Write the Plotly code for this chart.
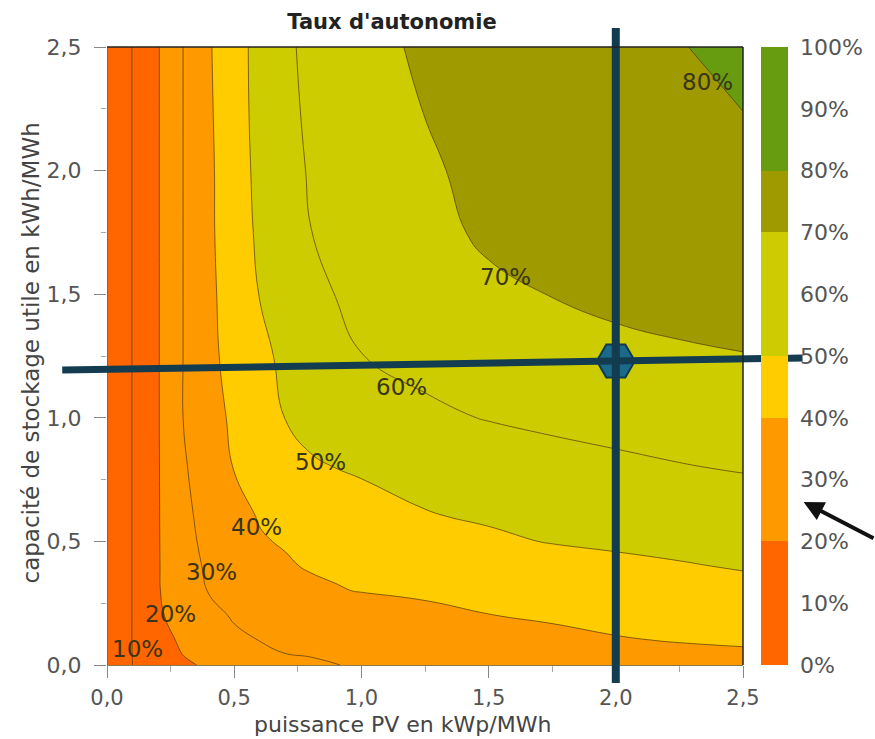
import plotly.graph_objects as go

# ---------------- data ----------------
pv_power = [0, 0.1, 0.2, 0.3, 0.4, 0.5, 0.6, 0.7, 0.8, 0.9, 1.0, 1.25, 1.5, 1.75, 2.0, 2.25, 2.5]
storage = [0, 0.05, 0.1, 0.2, 0.3, 0.4, 0.5, 0.6, 0.8, 1.0, 1.25, 1.5, 1.75, 2.0, 2.25, 2.5]

row_000 = [0, 10.0, 14.3, 18.7, 21.2, 23.0, 24.7, 26.5, 28.2, 29.9, 30.5, 31.6, 32.6, 33.4, 34.0, 34.5, 35.0]
row_005 = [0, 10.1, 15.5, 20.4, 22.9, 25.4, 28.0, 30.2, 31.0, 31.7, 32.3, 33.8, 35.0, 36.1, 37.0, 37.9, 38.8]
row_010 = [0, 10.2, 16.7, 21.5, 24.5, 28.8, 30.1, 30.7, 31.4, 32.0, 32.6, 34.2, 35.7, 37.3, 39.3, 40.5, 41.3]
row_020 = [0, 10.2, 18.7, 23.8, 28.2, 30.6, 31.5, 32.4, 33.3, 34.3, 35.2, 37.5, 39.8, 41.3, 42.8, 43.6, 44.3]
row_030 = [0, 10.2, 19.4, 25.4, 30.3, 32.1, 33.8, 35.5, 37.8, 39.5, 40.3, 41.6, 42.9, 44.3, 45.7, 46.6, 47.5]
row_040 = [0, 10.2, 19.4, 26.5, 31.3, 33.8, 36.4, 39.0, 40.8, 41.2, 41.8, 43.2, 44.7, 46.3, 48.2, 49.4, 50.6]
row_050 = [0, 10.2, 19.4, 27.3, 32.3, 35.8, 39.3, 40.7, 41.9, 42.8, 43.8, 45.9, 48.6, 50.4, 51.3, 52.2, 53.1]
row_060 = [0, 10.2, 19.4, 27.9, 33.1, 37.3, 40.5, 41.8, 43.3, 44.4, 45.7, 49.5, 50.9, 52.3, 53.7, 54.7, 55.6]
row_080 = [0, 10.2, 19.4, 29.0, 35.0, 40.3, 42.8, 45.4, 49.0, 50.1, 51.3, 52.8, 54.6, 57.0, 58.3, 59.6, 60.6]
row_100 = [0, 10.2, 19.4, 30.1, 36.3, 41.7, 46.1, 50.1, 52.5, 53.5, 54.6, 58.3, 60.4, 61.7, 62.9, 63.8, 64.7]
row_125 = [0, 10.2, 19.4, 30.1, 37.7, 43.3, 48.1, 51.6, 54.4, 57.1, 59.9, 62.5, 64.5, 66.0, 68.3, 69.2, 69.8]
row_150 = [0, 10.2, 19.4, 30.1, 38.0, 44.4, 50.2, 53.7, 57.2, 60.2, 61.5, 64.5, 68.5, 70.2, 71.5, 72.2, 72.8]
row_175 = [0, 10.2, 19.4, 30.1, 38.3, 45.5, 51.5, 55.7, 59.9, 61.7, 63.4, 67.8, 71.2, 72.2, 73.2, 74.2, 75.1]
row_200 = [0, 10.2, 19.4, 30.1, 38.3, 45.9, 52.2, 57.1, 60.7, 62.6, 64.4, 69.1, 71.8, 73.3, 74.7, 76.1, 77.6]
row_225 = [0, 10.2, 19.4, 30.1, 38.7, 46.3, 52.7, 58.1, 61.3, 63.3, 65.4, 70.2, 72.4, 74.3, 76.2, 78.1, 80.1]
row_250 = [0, 10.2, 19.4, 30.1, 39.1, 46.4, 52.9, 58.6, 61.8, 64.2, 67.0, 71.5, 73.1, 75.3, 77.5, 79.7, 81.8]

autonomy = [row_000, row_005, row_010, row_020, row_030, row_040, row_050, row_060,
            row_080, row_100, row_125, row_150, row_175, row_200, row_225, row_250]

colorbar_ticks = [0, 10, 20, 30, 40, 50, 60, 70, 80, 90, 100]
axis_ticks = [0, 0.5, 1.0, 1.5, 2.0, 2.5]

contour_label_text = ["10%", "20%", "30%", "40%", "50%", "60%", "70%", "80%"]
contour_label_pv = [0.121, 0.25, 0.410, 0.586, 0.840, 1.156, 1.566, 2.359]
contour_label_storage = [0.065, 0.206, 0.376, 0.558, 0.821, 1.124, 1.57, 2.358]

# selected operating point
point_pv = 2.0
point_storage = 1.23

# ---------------- figure ----------------
W, H = 875, 739
ML, MR, MT, MB = 107, 128, 47, 74
X_RANGE = [0, 2.5]
Y_RANGE = [0, 2.5]
plot_w = W - ML - MR
plot_h = H - MT - MB
FONT = "DejaVu Sans"


def xp(v):
    return (v - X_RANGE[0]) / (X_RANGE[1] - X_RANGE[0])


def yp(v):
    return (v - Y_RANGE[0]) / (Y_RANGE[1] - Y_RANGE[0])


c1, c2, c3, c4, c5, c6 = "#FF6600", "#FF9900", "#FFCC00", "#CCCC00", "#9E9A00", "#679B10"
colorscale = [
    [0.0, c1], [0.2, c1], [0.2, c2], [0.4, c2], [0.4, c3], [0.5, c3],
    [0.5, c4], [0.7, c4], [0.7, c5], [0.8, c5], [0.8, c6], [1.0, c6],
]
levels = dict(start=0, end=100, size=10)

fig = go.Figure()
# filled bands (no lines, so the colour bar stays clean)
fig.add_trace(go.Contour(
    x=pv_power, y=storage, z=autonomy,
    zmin=0, zmax=100, autocontour=False,
    contours=dict(**levels, coloring="fill", showlabels=False),
    colorscale=colorscale,
    line=dict(width=0, smoothing=1.3),
    colorbar=dict(
        x=(765 - ML) / plot_w, xanchor="left", xpad=0,
        y=0, yanchor="bottom", len=1, lenmode="fraction", ypad=0,
        thickness=27, outlinewidth=0,
        tickvals=colorbar_ticks,
        ticktext=[f"{t}%" for t in colorbar_ticks],
        ticks="outside", ticklen=8, tickcolor="rgba(0,0,0,0)",
        tickfont=dict(family=FONT, size=22, color="#555555"),
    ),
    hoverinfo="skip",
))
# thin iso-lines on top
fig.add_trace(go.Contour(
    x=pv_power, y=storage, z=autonomy,
    autocontour=False, showscale=False,
    contours=dict(**levels, coloring="none", showlabels=False),
    line=dict(color="rgba(70,50,0,0.75)", width=0.9, smoothing=1.3),
    hoverinfo="skip",
))

# operating point marker
fig.add_trace(go.Scatter(
    x=[point_pv], y=[point_storage], mode="markers",
    marker=dict(symbol="hexagon2", size=38, color="#1B6A8A",
                line=dict(color="#10394F", width=2)),
    showlegend=False, hoverinfo="skip",
))

LINE_COL = "#133C50"
shapes = [
    # horizontal guide line through the operating point (extends past the plot)
    dict(type="line", xref="paper", yref="paper",
         x0=xp(-0.176), y0=yp(1.193), x1=xp(2.734), y1=yp(1.242),
         line=dict(color=LINE_COL, width=7), layer="above"),
    # vertical guide line
    dict(type="line", xref="paper", yref="paper",
         x0=xp(point_pv), y0=yp(-0.073), x1=xp(point_pv), y1=yp(2.577),
         line=dict(color=LINE_COL, width=8), layer="above"),
    # dark frame on top and right edges
    dict(type="line", xref="paper", yref="paper", x0=0, y0=1, x1=1, y1=1,
         line=dict(color="#222222", width=1.5), layer="above"),
    dict(type="line", xref="paper", yref="paper", x0=1, y0=0, x1=1, y1=1,
         line=dict(color="#222222", width=1.5), layer="above"),
]

annotations = []
for t, lx, ly in zip(contour_label_text, contour_label_pv, contour_label_storage):
    annotations.append(dict(
        x=lx, y=ly, xref="x", yref="y", text=t, showarrow=False,
        font=dict(family=FONT, size=23, color="#3A3418"),
    ))

# axis titles
annotations.append(dict(
    x=(404 - ML) / plot_w, y=(H - MB - 724) / plot_h, xref="paper", yref="paper",
    text="puissance PV en kWp/MWh", showarrow=False, xanchor="center", yanchor="middle",
    font=dict(family=FONT, size=22, color="#444444"),
))
annotations.append(dict(
    x=(31 - ML) / plot_w, y=(H - MB - 353) / plot_h, xref="paper", yref="paper",
    text="capacité de stockage utile en kWh/MWh", showarrow=False, textangle=-90,
    xanchor="center", yanchor="middle",
    font=dict(family=FONT, size=23, color="#444444"),
))

# black arrow pointing at the colour bar
annotations.append(dict(
    x=(808 - ML) / plot_w, y=(H - MB - 502) / plot_h, xref="paper", yref="paper",
    text="", showarrow=True, ax=78, ay=37, axref="pixel", ayref="pixel",
    arrowhead=2, arrowsize=1.0, arrowwidth=4, arrowcolor="#111111",
))

fig.update_layout(
    width=W, height=H,
    margin=dict(l=ML, r=MR, t=MT, b=MB),
    paper_bgcolor="white", plot_bgcolor="white",
    separators=", ",
    font=dict(family=FONT, color="#555555"),
    title=dict(text="<b>Taux d'autonomie</b>", x=392 / W, xref="container",
               y=1 - 22 / H, yref="container", yanchor="middle", xanchor="center",
               font=dict(family=FONT, size=21, color="#222222")),
    xaxis=dict(
        range=X_RANGE, tickvals=axis_ticks, tickformat=".1f",
        ticks="outside", ticklen=12, tickcolor="#888888", ticklabelstandoff=2,
        minor=dict(dtick=0.25, ticks="outside", ticklen=6, tickcolor="#aaaaaa"),
        showgrid=False, zeroline=False,
        showline=True, linecolor="#8a7a50", linewidth=1,
        tickfont=dict(family=FONT, size=21, color="#555555"),
    ),
    yaxis=dict(
        range=Y_RANGE, tickvals=axis_ticks, tickformat=".1f",
        ticks="outside", ticklen=12, tickcolor="#888888", ticklabelstandoff=8,
        minor=dict(dtick=0.25, ticks="outside", ticklen=5, tickcolor="#aaaaaa"),
        showgrid=False, zeroline=False, showline=False,
        tickfont=dict(family=FONT, size=22, color="#555555"),
    ),
    shapes=shapes,
    annotations=annotations,
    showlegend=False,
)

fig.write_html(
    "out.html",
    config={"displayModeBar": False},
    post_script="document.body.style.margin='0px';document.documentElement.style.overflow='hidden';",
)
